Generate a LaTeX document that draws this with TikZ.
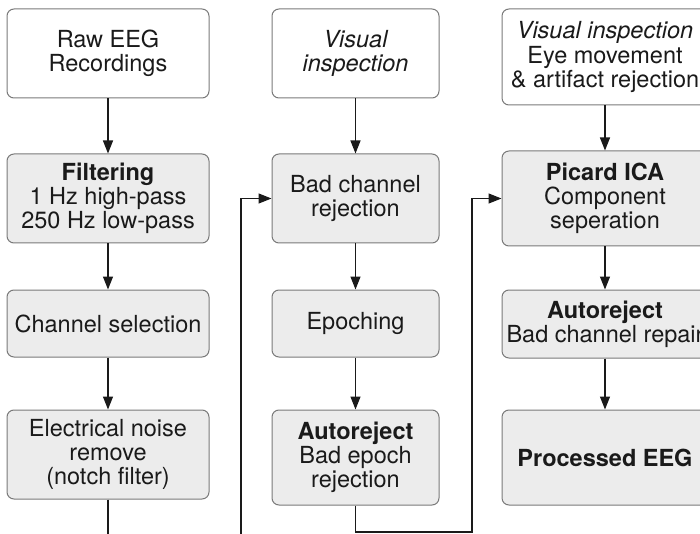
\documentclass[tikz,border=0pt]{standalone}
\usepackage{fontspec}
\setmainfont{TeX Gyre Heros}
\usetikzlibrary{arrows.meta}
\definecolor{boxfill}{HTML}{ECECEC}
\definecolor{boxline}{HTML}{7A7A7A}
\definecolor{inkc}{HTML}{1A1A1A}
\begin{document}
\begin{tikzpicture}[x=1pt,y=-1pt,
  box/.style={draw=boxline, line width=1pt, rounded corners=7pt, align=center,
    inner sep=0pt, text=inkc, font=\fontsize{23.5}{24.3}\selectfont},
  plain/.style={box, fill=white},
  proc/.style={box, fill=boxfill},
  c1/.style={minimum width=202pt},
  c2/.style={minimum width=167pt},
  c3/.style={minimum width=206pt},
  arr/.style={draw=inkc, line width=1.3pt, -{Triangle[length=13pt,width=10pt]}},
  wire/.style={draw=inkc, line width=1.3pt}]
\useasboundingbox (0,0) rectangle (700,534);
\clip (0,0) rectangle (700,534);
\fill[white] (0,0) rectangle (700,534);

% first column
\node[plain,c1,minimum height=89pt] (raw) at (108,53.5) {Raw EEG\\Recordings};
\node[proc,c1,minimum height=89pt] (filt) at (108,198.5) {\textbf{Filtering}\\1 Hz high-pass\\250 Hz low-pass};
\node[proc,c1,minimum height=67pt] (chsel) at (108,323.5) {Channel selection};
\node[proc,c1,minimum height=89pt] (noise) at (108,454.5) {Electrical noise\\remove\\(notch filter)};

% second column
\node[plain,c2,minimum height=89pt] (vis) at (355.5,53.5) {\itshape Visual\\\itshape inspection};
\node[proc,c2,minimum height=89pt] (badch) at (355.5,198.5) {Bad channel\\rejection};
\node[proc,c2,minimum height=67pt] (epoch) at (355.5,323.5) {Epoching};
\node[proc,c2,minimum height=95pt] (arej) at (355.5,457.5) {\textbf{Autoreject}\\Bad epoch\\rejection};

% third column
\node[plain,c3,minimum height=96pt] (vis2) at (605,57) {\textit{Visual inspection}\\Eye movement\\\& artifact rejection};
\node[proc,c3,minimum height=95pt] (ica) at (605,198.5) {\textbf{Picard ICA}\\Component\\seperation};
\node[proc,c3,minimum height=68pt] (arep) at (605,324) {\textbf{Autoreject}\\Bad channel repair};
\node[proc,c3,minimum height=95pt] (pout) at (605,457.5) {\textbf{Processed EEG}};

% connector ends and bends
\coordinate (out1) at (108,540);
\coordinate (in2) at (241,540);
\coordinate (turn) at (472,532);

% connectors
\draw[arr] (raw) -- (filt);
\draw[arr] (filt) -- (chsel);
\draw[arr] (chsel) -- (noise);
\draw[wire] (noise.south) -- (out1);
\draw[arr] (in2) |- (badch.west);
\draw[arr] (vis) -- (badch);
\draw[arr] (badch) -- (epoch);
\draw[arr] (epoch) -- (arej);
\draw[arr] (arej.south) |- (turn) |- (ica.west);
\draw[arr] (vis2) -- (ica);
\draw[arr] (ica) -- (arep);
\draw[arr] (arep) -- (pout);
\end{tikzpicture}
\end{document}
